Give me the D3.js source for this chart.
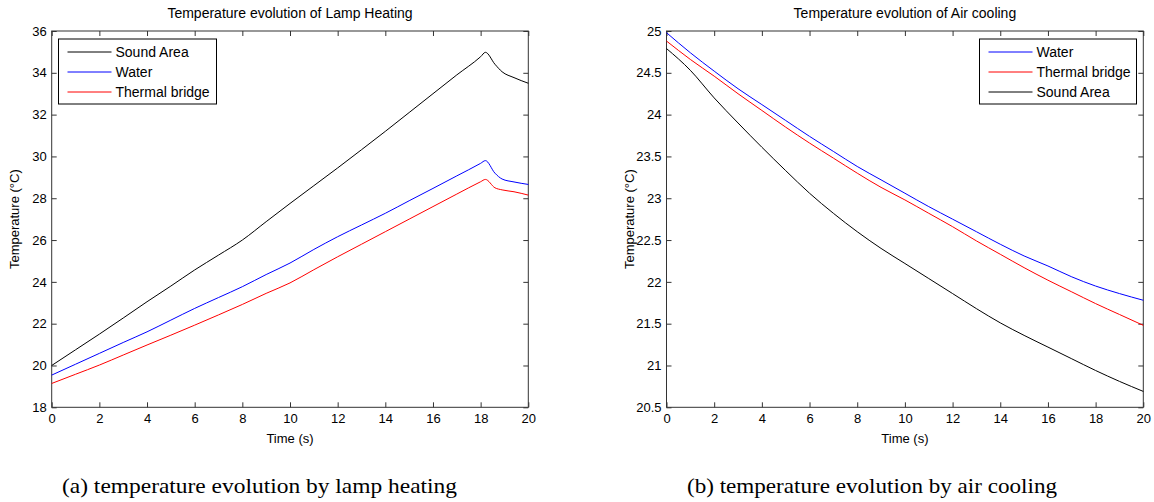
<!DOCTYPE html>
<html lang="en">
<head>
    <meta charset="UTF-8">
    <title>Temperature evolution</title>
    <script src="https://d3js.org/d3.v7.min.js"></script>
    <style>
        body { margin: 0; background: #fff; }
        svg text { font-family: "Liberation Sans", Arial, sans-serif; fill: #000; }
        .tick text { font-size: 13px; }
        .axis path, .axis line { stroke: #333; }
        .caption { font-family: "Liberation Serif", "DejaVu Serif", serif; font-size: 21px; }
    </style>
</head>
<body>
<svg width="1154" height="502"></svg>
<script>
    // ---- lamp heating (left) ----
    const lampTime   = [0, 1, 2, 3, 4, 5, 6, 7, 8, 9, 10, 11, 12, 13, 14, 15, 16, 17, 18, 18.2, 18.6, 18.9, 19.4, 20];
    const lampSound  = [20.0, 20.75, 21.5, 22.27, 23.05, 23.8, 24.57, 25.28, 26.0, 26.88, 27.75, 28.6, 29.45, 30.32, 31.2, 32.1, 33.0, 33.9, 34.77, 34.98, 34.41, 34.05, 33.77, 33.5];
    const lampWater  = [19.54, 20.06, 20.58, 21.1, 21.61, 22.17, 22.73, 23.25, 23.77, 24.35, 24.9, 25.55, 26.16, 26.72, 27.28, 27.88, 28.47, 29.07, 29.67, 29.8, 29.2, 28.92, 28.78, 28.66];
    const lampBridge = [19.14, 19.58, 20.02, 20.5, 20.98, 21.45, 21.93, 22.42, 22.92, 23.45, 23.95, 24.58, 25.2, 25.8, 26.4, 27.0, 27.6, 28.2, 28.79, 28.9, 28.5, 28.4, 28.31, 28.15];

    // ---- air cooling (right) ----
    const coolTime   = [0, 1, 2, 3, 4, 5, 6, 7, 8, 9, 10, 11, 12, 13, 14, 15, 16, 17, 18, 19, 20];
    const coolWater  = [24.98, 24.74, 24.52, 24.31, 24.12, 23.93, 23.74, 23.56, 23.38, 23.22, 23.06, 22.90, 22.75, 22.60, 22.45, 22.31, 22.19, 22.06, 21.95, 21.86, 21.78];
    const coolBridge = [24.88, 24.66, 24.46, 24.25, 24.05, 23.85, 23.66, 23.48, 23.30, 23.13, 22.98, 22.82, 22.66, 22.49, 22.33, 22.17, 22.02, 21.88, 21.74, 21.61, 21.48];
    const coolSound  = [24.79, 24.53, 24.20, 23.90, 23.61, 23.33, 23.06, 22.82, 22.60, 22.40, 22.22, 22.04, 21.86, 21.68, 21.51, 21.36, 21.22, 21.08, 20.94, 20.81, 20.69];

    const xTicks = d3.range(0, 21, 2);
    const lampYTicks = d3.range(18, 37, 2);
    const coolYTicks = [20.5, 21, 21.5, 22, 22.5, 23, 23.5, 24, 24.5, 25];

    const svg = d3.select("svg");

    function drawPanel(cfg) {
        let x = d3.scaleLinear().domain([0, 20]).range([cfg.left, cfg.right]);
        let y = d3.scaleLinear().domain(cfg.yDomain).range([cfg.bottom, cfg.top]);
        let g = svg.append("g");

        // inward ticks on all four sides, labels only bottom / left
        g.append("g").attr("class", "axis")
            .attr("transform", "translate(0," + cfg.bottom + ")")
            .call(d3.axisBottom(x).tickValues(xTicks).tickSizeInner(-5).tickSizeOuter(0).tickPadding(6));
        g.append("g").attr("class", "axis")
            .attr("transform", "translate(0," + cfg.top + ")")
            .call(d3.axisTop(x).tickValues(xTicks).tickSizeInner(-5).tickSizeOuter(0).tickFormat(""));
        g.append("g").attr("class", "axis")
            .attr("transform", "translate(" + cfg.left + ",0)")
            .call(d3.axisLeft(y).tickValues(cfg.yTicks).tickSizeInner(-5).tickSizeOuter(0).tickPadding(5)
                .tickFormat(d3.format("")));
        g.append("g").attr("class", "axis")
            .attr("transform", "translate(" + cfg.right + ",0)")
            .call(d3.axisRight(y).tickValues(cfg.yTicks).tickSizeInner(-5).tickSizeOuter(0).tickFormat(""));
        g.selectAll(".axis path.domain").remove();

        g.append("rect")
            .attr("x", cfg.left).attr("y", cfg.top)
            .attr("width", cfg.right - cfg.left).attr("height", cfg.bottom - cfg.top)
            .attr("fill", "none").attr("stroke", "#333");

        let line = d3.line().curve(d3.curveMonotoneX)
            .x((d, i) => x(cfg.time[i])).y(d => y(d));
        cfg.series.forEach(s => {
            g.append("path").datum(s.values)
                .attr("d", line)
                .attr("fill", "none")
                .attr("stroke", s.color)
                .attr("stroke-width", 1);
        });

        let mid = (cfg.left + cfg.right) / 2;
        g.append("text").attr("x", mid).attr("y", 18)
            .attr("text-anchor", "middle").style("font-size", "14px").text(cfg.title);
        g.append("text").attr("x", mid).attr("y", 443)
            .attr("text-anchor", "middle").style("font-size", "13px").text("Time (s)");
        g.append("text")
            .attr("transform", "translate(" + (cfg.left - 33) + "," + ((cfg.top + cfg.bottom) / 2) + ") rotate(-90)")
            .attr("text-anchor", "middle").style("font-size", "13px").text("Temperature (°C)");

        // legend
        let lg = g.append("g").attr("transform", "translate(" + cfg.legend.x + "," + cfg.legend.y + ")");
        lg.append("rect").attr("width", cfg.legend.w).attr("height", 65)
            .attr("fill", "#fff").attr("stroke", "#000");
        cfg.series.forEach((s, i) => {
            let ry = 13 + i * 20;
            lg.append("line").attr("x1", 9).attr("x2", 53).attr("y1", ry).attr("y2", ry)
                .attr("stroke", s.color);
            lg.append("text").attr("x", 57).attr("y", ry + 5)
                .style("font-size", "14px").text(s.name);
        });

        g.append("text").attr("class", "caption")
            .attr("x", cfg.caption.x).attr("y", 493)
            .attr("textLength", cfg.caption.w).attr("lengthAdjust", "spacingAndGlyphs")
            .text(cfg.caption.text);
    }

    drawPanel({
        left: 51.7, right: 528.3, top: 31, bottom: 407.3,
        yDomain: [18, 36], yTicks: lampYTicks, time: lampTime,
        title: "Temperature evolution of Lamp Heating",
        series: [
            {name: "Sound Area", color: "#000000", values: lampSound},
            {name: "Water", color: "#0000ff", values: lampWater},
            {name: "Thermal bridge", color: "#ff0000", values: lampBridge}
        ],
        legend: {x: 58.5, y: 39, w: 158},
        caption: {x: 62, w: 395, text: "(a)  temperature evolution by lamp heating"}
    });

    drawPanel({
        left: 666.5, right: 1143.3, top: 31, bottom: 407.3,
        yDomain: [20.5, 25], yTicks: coolYTicks, time: coolTime,
        title: "Temperature evolution of Air cooling",
        series: [
            {name: "Water", color: "#0000ff", values: coolWater},
            {name: "Thermal bridge", color: "#ff0000", values: coolBridge},
            {name: "Sound Area", color: "#000000", values: coolSound}
        ],
        legend: {x: 979.5, y: 39, w: 157},
        caption: {x: 687, w: 370, text: "(b)  temperature evolution by air cooling"}
    });
</script>
</body>
</html>
